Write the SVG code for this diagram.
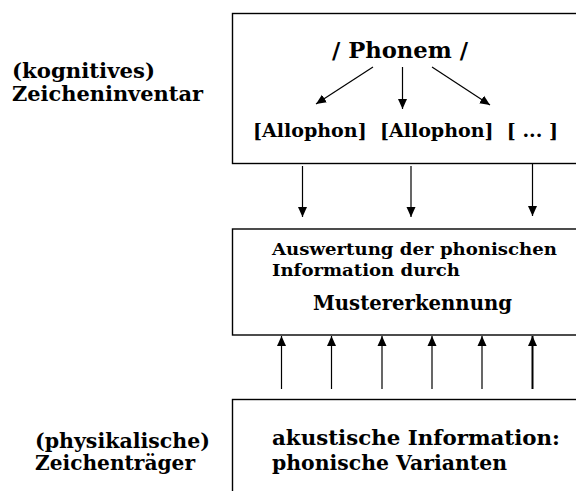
<svg xmlns="http://www.w3.org/2000/svg" width="576" height="491" viewBox="0 0 576 491">
<defs>
<style>
.box{fill:#fff;stroke:#000;stroke-width:1.4}
.t{font-family:"DejaVu Serif","Liberation Serif",serif;font-weight:bold;fill:#000}
.c{stroke:#000;stroke-width:1.2;fill:none;marker-end:url(#ah)}
.thick{stroke-width:2}
</style>
<marker id="ah" markerUnits="userSpaceOnUse" markerWidth="10" markerHeight="12" refX="10" refY="4.5" orient="auto" viewBox="0 0 10 9">
<path d="M0,0 L10,4.5 L0,9 Z" fill="#000"/>
</marker>
</defs>
<rect width="576" height="491" fill="#fff"/>
<g id="label-kognitiv">
<text class="t" x="12" y="78" font-size="21" textLength="143" lengthAdjust="spacingAndGlyphs">(kognitives)</text>
<text class="t" x="12" y="101" font-size="21" textLength="191" lengthAdjust="spacingAndGlyphs">Zeicheninventar</text>
</g>
<g id="label-physikalisch">
<text class="t" x="35" y="448" font-size="20.5" textLength="175" lengthAdjust="spacingAndGlyphs">(physikalische)</text>
<text class="t" x="35" y="470" font-size="20.5" textLength="160" lengthAdjust="spacingAndGlyphs">Zeichenträger</text>
</g>
<g id="box-inventar">
<rect class="box" x="232.5" y="13.5" width="350" height="150"/>
<text class="t" x="332" y="58" font-size="22.5" textLength="136" lengthAdjust="spacingAndGlyphs">/ Phonem /</text>
<text class="t" x="253" y="137" font-size="19" textLength="305" lengthAdjust="spacingAndGlyphs" xml:space="preserve">[Allophon]  [Allophon]  [ ... ]</text>
</g>
<g id="box-auswertung">
<rect class="box" x="232.5" y="229" width="350" height="106"/>
<text class="t" x="272" y="255" font-size="17.5" textLength="285" lengthAdjust="spacingAndGlyphs">Auswertung der phonischen</text>
<text class="t" x="272" y="275.5" font-size="17.5" textLength="188" lengthAdjust="spacingAndGlyphs">Information durch</text>
<text class="t" x="313" y="310" font-size="20" textLength="199" lengthAdjust="spacingAndGlyphs">Mustererkennung</text>
</g>
<g id="box-akustisch">
<rect class="box" x="232.5" y="399.5" width="350" height="100"/>
<text class="t" x="272" y="445" font-size="21" textLength="288" lengthAdjust="spacingAndGlyphs">akustische Information:</text>
<text class="t" x="272" y="470" font-size="21" textLength="235" lengthAdjust="spacingAndGlyphs">phonische Varianten</text>
</g>
<g id="connectors">
<line class="c" x1="373" y1="67" x2="316" y2="104"/>
<line class="c" x1="402.5" y1="67" x2="402.5" y2="109"/>
<line class="c" x1="432" y1="67" x2="490" y2="105"/>
<line class="c" x1="302.5" y1="166" x2="302.5" y2="217"/>
<line class="c" x1="411" y1="166" x2="411" y2="217"/>
<line class="c" x1="532.5" y1="164" x2="532.5" y2="216"/>
<line class="c" x1="281.5" y1="389" x2="281.5" y2="336"/>
<line class="c" x1="331.5" y1="389" x2="331.5" y2="336"/>
<line class="c" x1="382" y1="389" x2="382" y2="336"/>
<line class="c" x1="432" y1="389" x2="432" y2="336"/>
<line class="c" x1="482" y1="389" x2="482" y2="336"/>
<line class="c thick" x1="532.5" y1="389" x2="532.5" y2="336"/>
</g>
</svg>
